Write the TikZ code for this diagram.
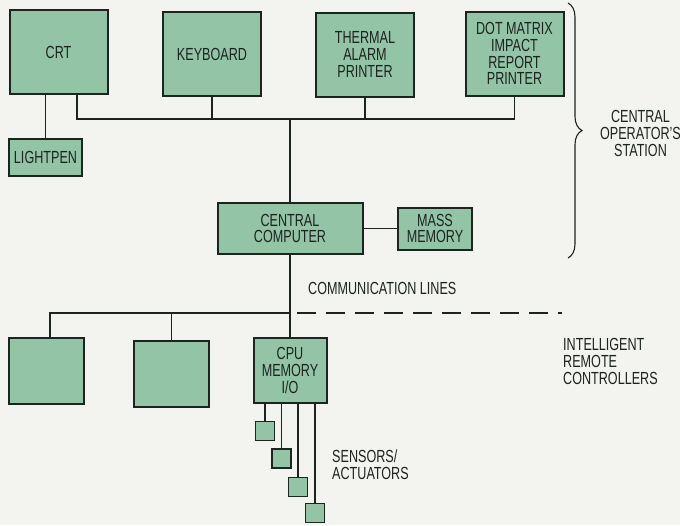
\documentclass[tikz,border=0pt]{standalone}
\usepackage{fontspec}
\setmainfont{Liberation Sans}[FakeStretch=0.72]
\usetikzlibrary{decorations.pathreplacing}
\definecolor{boxgreen}{RGB}{148,196,166}
\definecolor{ink}{RGB}{28,36,32}
\definecolor{paper}{RGB}{243,243,239}

\begin{document}
\begin{tikzpicture}[
  x=1pt, y=-1pt,
  font=\fontsize{17.5}{16.8}\selectfont, text=ink,
  box/.style={draw=ink, line width=2pt, fill=boxgreen, align=center,
    minimum width=98pt, minimum height=84pt, inner sep=1pt},
  remote/.style={box, minimum width=75pt, minimum height=66pt},
  sensor/.style={box, line width=1.5pt, minimum width=19pt, minimum height=19pt},
  link/.style={draw=ink, line width=1.3pt},
  lbl/.style={inner sep=0pt}
]
\useasboundingbox (0,0) rectangle (680,525);
\fill[paper] (0,0) rectangle (680,525);

% central operator's station
\node[box] (crt) at (58.5,52) {CRT};
\node[box] (keyboard) at (212,54) {KEYBOARD};
\node[box] (thermal) at (365,54.5) {THERMAL\\ALARM\\PRINTER};
\node[box] (dotmatrix) at (514.5,53.5) {DOT MATRIX\\IMPACT\\REPORT\\PRINTER};
\node[box, minimum width=73pt, minimum height=37pt] (lightpen) at (45.5,157.5) {LIGHTPEN};
\node[box, minimum width=145pt, minimum height=51pt] (central) at (290,228.5) {CENTRAL\\COMPUTER};
\node[box, minimum width=74pt, minimum height=42pt] (mass) at (435,228.5) {MASS\\MEMORY};

\coordinate (topbus) at (290,119);
\draw[link] ([xshift=18.5pt]crt.south) |- (topbus -| dotmatrix) -- (dotmatrix.south);
\draw[link] (keyboard.south) -- (keyboard.south |- topbus);
\draw[link] (thermal.south) -- (thermal.south |- topbus);
\draw[link] (crt.south -| lightpen) -- (lightpen.north);
\draw[link] (topbus) -- (central.north);
\draw[link] (central) -- (mass);

\coordinate (bracetop) at (568,3);
\coordinate (bracebot) at (568,258);
\draw[link, line width=1.1pt, decorate, decoration={brace, amplitude=14pt, aspect=0.5}]
  (bracetop) -- (bracebot);
\node[lbl, align=center, anchor=north] (station) at (640.5,110) {CENTRAL\\OPERATOR'S\\STATION};

% intelligent remote controllers
\node[lbl, anchor=north west] (comm) at (308,282) {COMMUNICATION LINES};
\node[remote] (rc1) at (46,371) {};
\node[remote] (rc2) at (171.5,373.5) {};
\node[remote, minimum width=73pt, minimum height=65pt] (cpu) at (290,370.5) {CPU\\MEMORY\\I/O};

\coordinate (lbus) at (290,313);
\coordinate (dashend) at (562,313);
\draw[link] (central.south) -- (cpu.north);
\draw[link] ([xshift=4pt]rc1.north) |- (lbus);
\draw[link] (rc2.north) -- (rc2.north |- lbus);
\draw[link, dash pattern=on 19pt off 10pt] ([xshift=7pt]lbus) -- (dashend);
\node[lbl, align=left, anchor=north west] (remotes) at (563,338) {INTELLIGENT\\REMOTE\\CONTROLLERS};

% sensors / actuators
\node[sensor] (s1) at (265,431) {};
\node[sensor] (s2) at (281.5,458.5) {};
\node[sensor] (s3) at (298,487) {};
\node[sensor] (s4) at (315,513) {};
\foreach \s in {s1,s2,s3,s4}
  \draw[link] (\s.north) -- (\s.north |- cpu.south);
\node[lbl, align=left, anchor=north west] (sensors) at (332,450) {SENSORS/\\ACTUATORS};
\end{tikzpicture}
\end{document}
